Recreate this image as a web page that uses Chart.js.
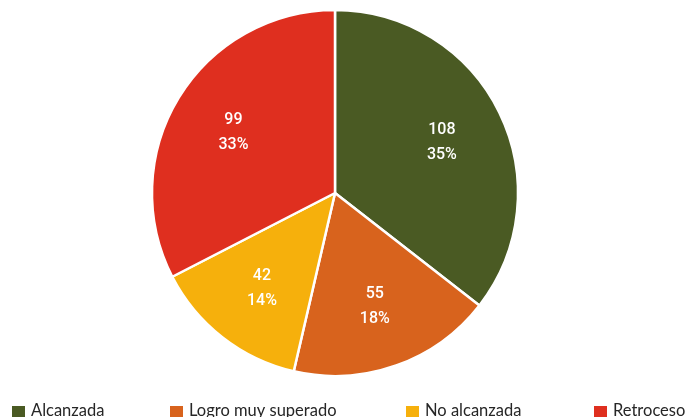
<!DOCTYPE html>
<html>
<head>
<meta charset="utf-8">
<script src="https://cdn.jsdelivr.net/npm/chart.js@4"></script>
<style>
    html, body { margin: 0; padding: 0; background: #fff; overflow: hidden; }
    #wrap { width: 686px; height: 417px; position: relative; }
</style>
</head>
<body>
<div id="wrap"><canvas id="myChart" width="686" height="417"></canvas></div>
<script>
const categories = ['Alcanzada', 'Logro muy superado', 'No alcanzada', 'Retroceso'];
const counts = [108, 55, 42, 99];
const percents = [35, 18, 14, 33];
const colors = ['#4a5a23', '#d8631d', '#f6b00c', '#df2f1f'];

// labels inside each slice: count over percent
const sliceLabels = {
    id: 'sliceLabels',
    afterDatasetsDraw(chart) {
        const ctx = chart.ctx;
        const meta = chart.getDatasetMeta(0);
        ctx.save();
        ctx.fillStyle = '#fff';
        ctx.font = '500 16px Roboto';
        ctx.textAlign = 'center';
        ctx.textBaseline = 'middle';
        meta.data.forEach((arc, i) => {
            const mid = (arc.startAngle + arc.endAngle) / 2;
            const r = arc.outerRadius * 0.65;
            const x = arc.x + Math.cos(mid) * r;
            const y = arc.y + Math.sin(mid) * r;
            ctx.fillText(String(counts[i]), x, y - 11);
            ctx.fillText(percents[i] + '%', x, y + 14);
        });
        ctx.restore();
    }
};

// bottom legend, spread across the width like the original
const legendXs = [12, 170, 406, 594];
const bottomLegend = {
    id: 'bottomLegend',
    afterDraw(chart) {
        const ctx = chart.ctx;
        ctx.save();
        ctx.font = '16.5px Lato';
        ctx.textBaseline = 'alphabetic';
        categories.forEach((name, i) => {
            ctx.fillStyle = colors[i];
            ctx.fillRect(legendXs[i], 406, 13, 13);
            ctx.fillStyle = '#262626';
            ctx.fillText(name, legendXs[i] + 19, 416);
        });
        ctx.restore();
    }
};

const canvas = /** @type {HTMLCanvasElement} */ (document.getElementById('myChart'));
new Chart(canvas.getContext('2d'), {
    type: 'pie',
    data: {
        labels: categories,
        datasets: [{
            data: counts,
            backgroundColor: colors,
            borderColor: '#fff',
            borderWidth: 2.5,
            radius: 183
        }]
    },
    options: {
        responsive: false,
        animation: false,
        layout: { padding: { left: 0, right: 16, top: 0, bottom: 31 } },
        plugins: {
            legend: { display: false },
            tooltip: { enabled: false }
        }
    },
    plugins: [sliceLabels, bottomLegend]
});
</script>
</body>
</html>
